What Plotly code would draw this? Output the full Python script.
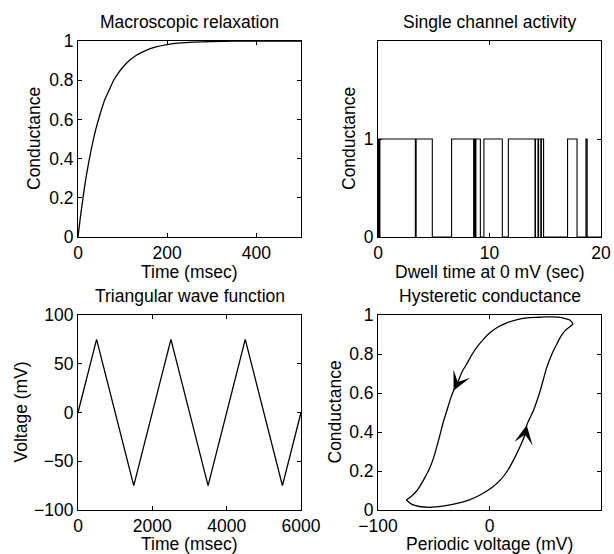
import plotly.graph_objects as go

# ---------------- data ----------------
# Panel 1: macroscopic relaxation
relax_t = [0, 5, 10, 15, 20, 30, 40, 50, 60, 70, 80, 90, 100, 115, 130, 150, 175, 200, 230, 260, 300, 350, 400, 450, 500]
relax_g = [0, 0.095, 0.18, 0.26, 0.33, 0.45, 0.55, 0.63, 0.70, 0.75, 0.80, 0.835, 0.865, 0.90, 0.926, 0.95, 0.97, 0.982, 0.99, 0.994, 0.9975, 0.999, 0.9997, 0.9999, 1.0]

# Panel 2: single channel transitions (time, state after transition)
chan_t = [0, 0.03, 0.13, 0.17, 3.35, 3.42, 4.87, 6.6, 8.58, 8.63, 8.72, 8.78, 9.18, 9.5, 11.15, 11.69,
          14.08, 14.12, 14.35, 14.4, 14.6, 14.65, 14.85, 17.0, 17.85, 18.65, 18.76, 20]
chan_g = [0, 1, 0, 1, 0, 1, 0, 1, 0, 1, 0, 1, 0, 1, 0, 1,
          0, 1, 0, 1, 0, 1, 0, 1, 0, 1, 0, 0]

# Panel 3: triangular wave vertices
tri_t = [0, 500, 1500, 2500, 3500, 4500, 5500, 6000]
tri_v = [0, 75, -75, 75, -75, 75, -75, 0]

# Panel 4: hysteresis loop, lower branch (voltage rising) and upper branch (voltage falling)
hys_up_v = [-74.6, -70, -63, -53, -42, -29, -18, -8.4, 1, 9.6, 16, 21.5, 27, 32, 33.4, 39.4, 45.4, 51.3, 56, 60.3, 64, 67.8, 72, 75]
hys_up_g = [0.051, 0.03, 0.018, 0.014, 0.02, 0.034, 0.052, 0.077, 0.11, 0.153, 0.2, 0.256, 0.32, 0.39, 0.434, 0.51, 0.61, 0.73, 0.8, 0.85, 0.89, 0.92, 0.94, 0.954]
hys_dn_v = [75, 72, 67, 63, 57, 51, 43, 33.4, 24, 15.5, 8, 0.6, -5.5, -11.3, -16, -20.3, -24.5, -27.8, -32.2, -35, -38.2, -41.5, -44.2, -47, -50, -54, -57.6, -61, -65, -70, -74.6]
hys_dn_g = [0.954, 0.974, 0.983, 0.988, 0.99, 0.99, 0.988, 0.985, 0.975, 0.96, 0.94, 0.91, 0.875, 0.835, 0.795, 0.75, 0.71, 0.664, 0.613, 0.57, 0.51, 0.45, 0.39, 0.33, 0.27, 0.21, 0.17, 0.135, 0.10, 0.07, 0.051]
arrow_up_idx = 14   # direction arrow on the rising branch
arrow_dn_idx = 18   # direction arrow on the falling branch

FONT = "Liberation Sans, Arial, Helvetica, sans-serif"
FS = 17.5
W, H = 614, 554

# domains in pixels
doms = {
    1: ((78, 301), (41, 237)),
    2: ((378, 601), (41, 237)),
    3: ((78, 301), (315, 510)),
    4: ((378, 601), (315, 510)),
}

fig = go.Figure()
line = dict(color="black", width=1.3)
fig.add_trace(go.Scatter(x=relax_t, y=relax_g, mode="lines", line=dict(shape="spline", smoothing=0.6, **line), xaxis="x", yaxis="y"))
fig.add_trace(go.Scatter(x=chan_t, y=chan_g, mode="lines", line=dict(shape="hv", color="black", width=1.1), xaxis="x2", yaxis="y2"))
fig.add_trace(go.Scatter(x=tri_t, y=tri_v, mode="lines", line=line, xaxis="x3", yaxis="y3"))
fig.add_trace(go.Scatter(x=hys_up_v, y=hys_up_g, mode="lines", line=dict(shape="spline", smoothing=0.8, **line), xaxis="x4", yaxis="y4"))
fig.add_trace(go.Scatter(x=hys_dn_v, y=hys_dn_g, mode="lines", line=dict(shape="spline", smoothing=0.8, **line), xaxis="x4", yaxis="y4"))

axcommon = dict(showline=True, linecolor="black", linewidth=1, mirror="ticks", ticks="inside",
                ticklen=4, tickcolor="black", tickwidth=1, showgrid=False, zeroline=False,
                automargin=False,
                tickfont=dict(family=FONT, size=FS, color="black"))

ranges = {
    1: dict(x=[0, 500], xt=[0, 200, 400], y=[0, 1], yt=[0, 0.2, 0.4, 0.6, 0.8, 1]),
    2: dict(x=[0, 20], xt=[0, 10, 20], y=[0, 2], yt=[0, 1]),
    3: dict(x=[0, 6000], xt=[0, 2000, 4000, 6000], y=[-100, 100], yt=[-100, -50, 0, 50, 100]),
    4: dict(x=[-100, 100], xt=[-100, 0, 100], y=[0, 1], yt=[0, 0.2, 0.4, 0.6, 0.8, 1]),
}

layout = dict(width=W, height=H, autosize=False, margin=dict(l=0, r=0, t=0, b=0, pad=0, autoexpand=False),
              showlegend=False, paper_bgcolor="white", plot_bgcolor="white",
              font=dict(family=FONT, size=FS, color="black"))
for i in range(1, 5):
    (x0, x1), (y0, y1) = doms[i]
    sx = "" if i == 1 else str(i)
    r = ranges[i]
    layout["xaxis" + sx] = dict(domain=[x0 / W, x1 / W], range=r["x"], tickvals=r["xt"],
                                anchor="y" + sx, **axcommon)
    layout["yaxis" + sx] = dict(domain=[1 - y1 / H, 1 - y0 / H], range=r["y"], tickvals=r["yt"],
                                anchor="x" + sx, **axcommon)
fig.update_layout(**layout)

titles = {1: "Macroscopic relaxation", 2: "Single channel activity", 3: "Triangular wave function", 4: "Hysteretic conductance"}
xtitles = {1: "Time (msec)", 2: "Dwell time at 0 mV (sec)", 3: "Time (msec)", 4: "Periodic voltage (mV)"}
ytitles = {1: "Conductance", 2: "Conductance", 3: "Voltage (mV)", 4: "Conductance"}
yshifts = {1: -44, 2: -29, 3: -58, 4: -44}
xtshift = {1: -35, 2: -35, 3: -33.5, 4: -33.5}

ann = []
for i in range(1, 5):
    (x0, x1), (y0, y1) = doms[i]
    xc = (x0 + x1) / 2 / W
    ann.append(dict(text=titles[i], x=xc, y=1 - y0 / H, xref="paper", yref="paper",
                    xanchor="center", yanchor="middle", yshift=19, showarrow=False))
    ann.append(dict(text=xtitles[i], x=xc, y=1 - y1 / H, xref="paper", yref="paper",
                    xanchor="center", yanchor="middle", yshift=xtshift[i], showarrow=False))
    ann.append(dict(text=ytitles[i], x=x0 / W, y=1 - (y0 + y1) / 2 / H, xref="paper", yref="paper",
                    xanchor="center", yanchor="middle", xshift=yshifts[i], textangle=-90, showarrow=False))

for xs, ys, k in [(hys_up_v, hys_up_g, arrow_up_idx), (hys_dn_v, hys_dn_g, arrow_dn_idx)]:
    ann.append(dict(x=xs[k], y=ys[k], ax=xs[k - 1], ay=ys[k - 1], xref="x4", yref="y4",
                    axref="x4", ayref="y4", showarrow=True, arrowhead=3, arrowsize=2.6,
                    arrowwidth=1.2, arrowcolor="black", text=""))

fig.update_layout(annotations=ann)
fig.write_html("out.html")
